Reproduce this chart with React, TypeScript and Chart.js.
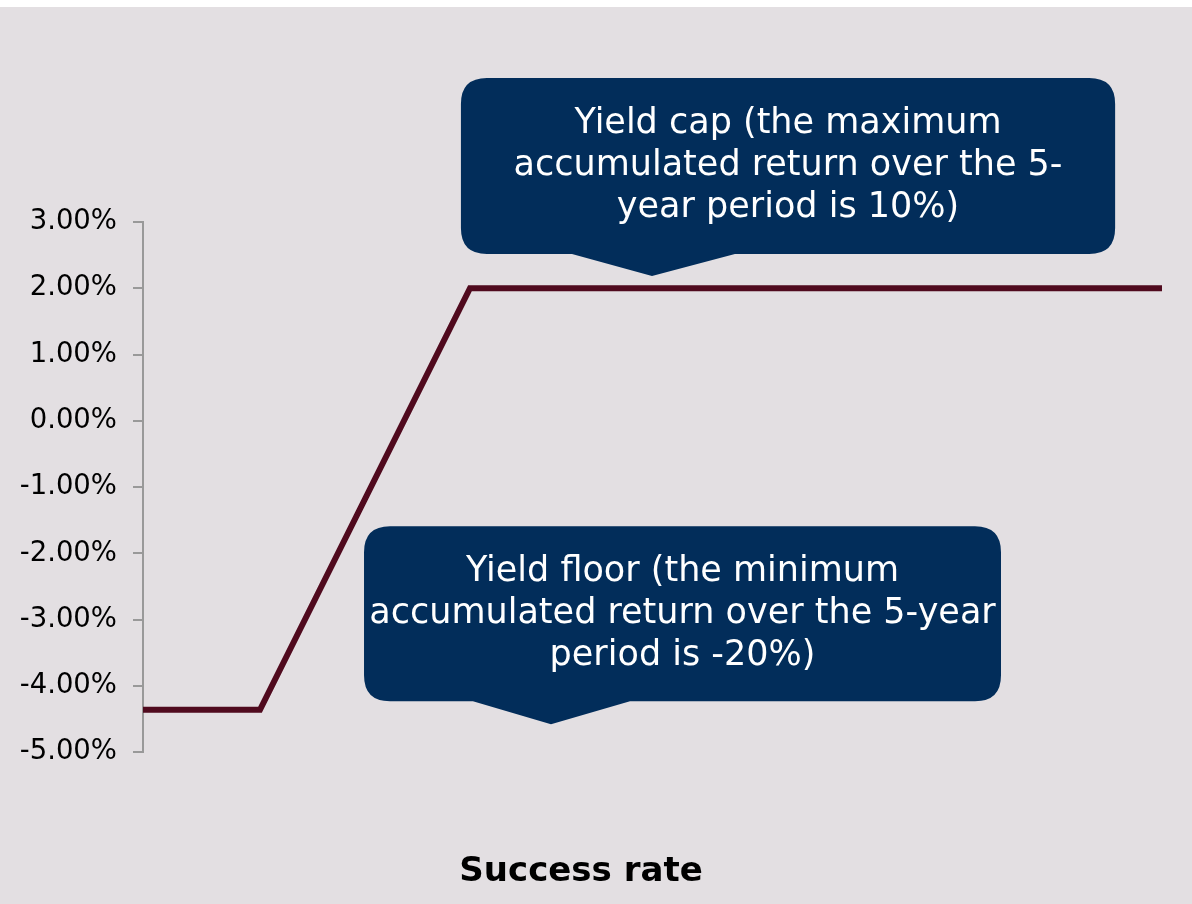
import React, { useEffect, useRef } from "react";
import { Chart, registerables } from "chart.js";

Chart.register(...registerables);

// Success rate (share of range) and annualised return (%)
const successRate = [0, 0.1148, 0.3209, 1];
const returnPct = [-4.36, -4.36, 2.0, 2.0];

const yTicks = [-5, -4, -3, -2, -1, 0, 1, 2, 3];
const xAxisTitle = "Success rate";

// Callout boxes in data coordinates (x: success rate, y: %)
const capLines = ["Yield cap (the maximum", "accumulated return over the 5-", "year period is 10%)"];
const capBox = [0.312, 0.954, 2.517, 5.174]; // xMin, xMax, yMin, yMax
const capPointer = [0.421, 0.5809, 0.4995, 2.185]; // baseLeft, baseRight, tipX, tipY

const floorLines = ["Yield floor (the minimum", "accumulated return over the 5-year", "period is -20%)"];
const floorBox = [0.2169, 0.842, -4.23, -1.589];
const floorPointer = [0.3238, 0.4779, 0.4004, -4.577];

const NAVY = "#022d5a";
const BG = "#e3dfe2";
const LINE = "#500a1e";

const calloutPlugin = {
  id: "callouts",
  beforeDraw(chart: any) {
    const { ctx, width, height } = chart;
    ctx.save();
    ctx.fillStyle = BG;
    ctx.fillRect(0, 0, width, height);
    ctx.restore();
  },
  afterDraw(chart: any) {
    const { ctx } = chart;
    const xs = chart.scales.x;
    const ys = chart.scales.y;
    const draw = (box: number[], ptr: number[], lines: string[]) => {
      const x0 = xs.getPixelForValue(box[0]);
      const x1 = xs.getPixelForValue(box[1]);
      const yb = ys.getPixelForValue(box[2]);
      const yt = ys.getPixelForValue(box[3]);
      const r = 26;
      ctx.save();
      ctx.fillStyle = NAVY;
      ctx.beginPath();
      ctx.moveTo(x0 + r, yt);
      ctx.lineTo(x1 - r, yt);
      ctx.quadraticCurveTo(x1, yt, x1, yt + r);
      ctx.lineTo(x1, yb - r);
      ctx.quadraticCurveTo(x1, yb, x1 - r, yb);
      ctx.lineTo(xs.getPixelForValue(ptr[1]), yb);
      ctx.lineTo(xs.getPixelForValue(ptr[2]), ys.getPixelForValue(ptr[3]));
      ctx.lineTo(xs.getPixelForValue(ptr[0]), yb);
      ctx.lineTo(x0 + r, yb);
      ctx.quadraticCurveTo(x0, yb, x0, yb - r);
      ctx.lineTo(x0, yt + r);
      ctx.quadraticCurveTo(x0, yt, x0 + r, yt);
      ctx.closePath();
      ctx.fill();
      ctx.fillStyle = "#ffffff";
      ctx.font = "35px 'DejaVu Sans'";
      ctx.textAlign = "center";
      ctx.textBaseline = "middle";
      const cx = (x0 + x1) / 2;
      const cy = (yt + yb) / 2;
      const lh = 42;
      lines.forEach((t, i) => {
        ctx.fillText(t, cx, cy + (i - (lines.length - 1) / 2) * lh);
      });
      ctx.restore();
    };
    draw(capBox, capPointer, capLines);
    draw(floorBox, floorPointer, floorLines);
  },
};

export default function App() {
  const ref = useRef<HTMLCanvasElement>(null);
  useEffect(() => {
    if (!ref.current) return;
    const chart = new Chart(ref.current, {
      type: "line",
      data: {
        datasets: [
          {
            data: successRate.map((x, i) => ({ x, y: returnPct[i] })),
            borderColor: LINE,
            borderWidth: 6,
            pointRadius: 0,
            tension: 0,
            fill: false,
          },
        ],
      },
      options: {
        animation: false,
        responsive: false,
        layout: { padding: { top: 215, right: 30, bottom: 11, left: 0 } },
        plugins: {
          legend: { display: false },
          tooltip: { enabled: false },
          title: {
            display: true,
            text: xAxisTitle,
            position: "bottom",
            color: "#000000",
            font: { family: "'DejaVu Sans'", size: 34, weight: "bold" },
            padding: { top: 100, bottom: 0 },
          },
        },
        scales: {
          x: { type: "linear", min: 0, max: 1, display: false },
          y: {
            min: -5,
            max: 3,
            afterBuildTicks: (s: any) => {
              s.ticks = yTicks.map((v) => ({ value: v }));
            },
            afterFit: (s: any) => {
              s.width = 143;
            },
            border: { display: true, color: "#999999", width: 2 },
            grid: {
              display: true,
              drawOnChartArea: false,
              drawTicks: true,
              tickLength: 10,
              color: "#999999",
              lineWidth: 2,
            },
            ticks: {
              color: "#000000",
              padding: 16,
              font: { family: "'DejaVu Sans'", size: 27.5 },
              callback: (v: any) => Number(v).toFixed(2) + "%",
            },
          },
        },
      },
      plugins: [calloutPlugin],
    });
    return () => chart.destroy();
  }, []);
  return (
    <div style={{ position: "absolute", left: 0, top: 7, width: 1192, height: 897 }}>
      <canvas ref={ref} width={1192} height={897} style={{ display: "block" }} />
    </div>
  );
}
